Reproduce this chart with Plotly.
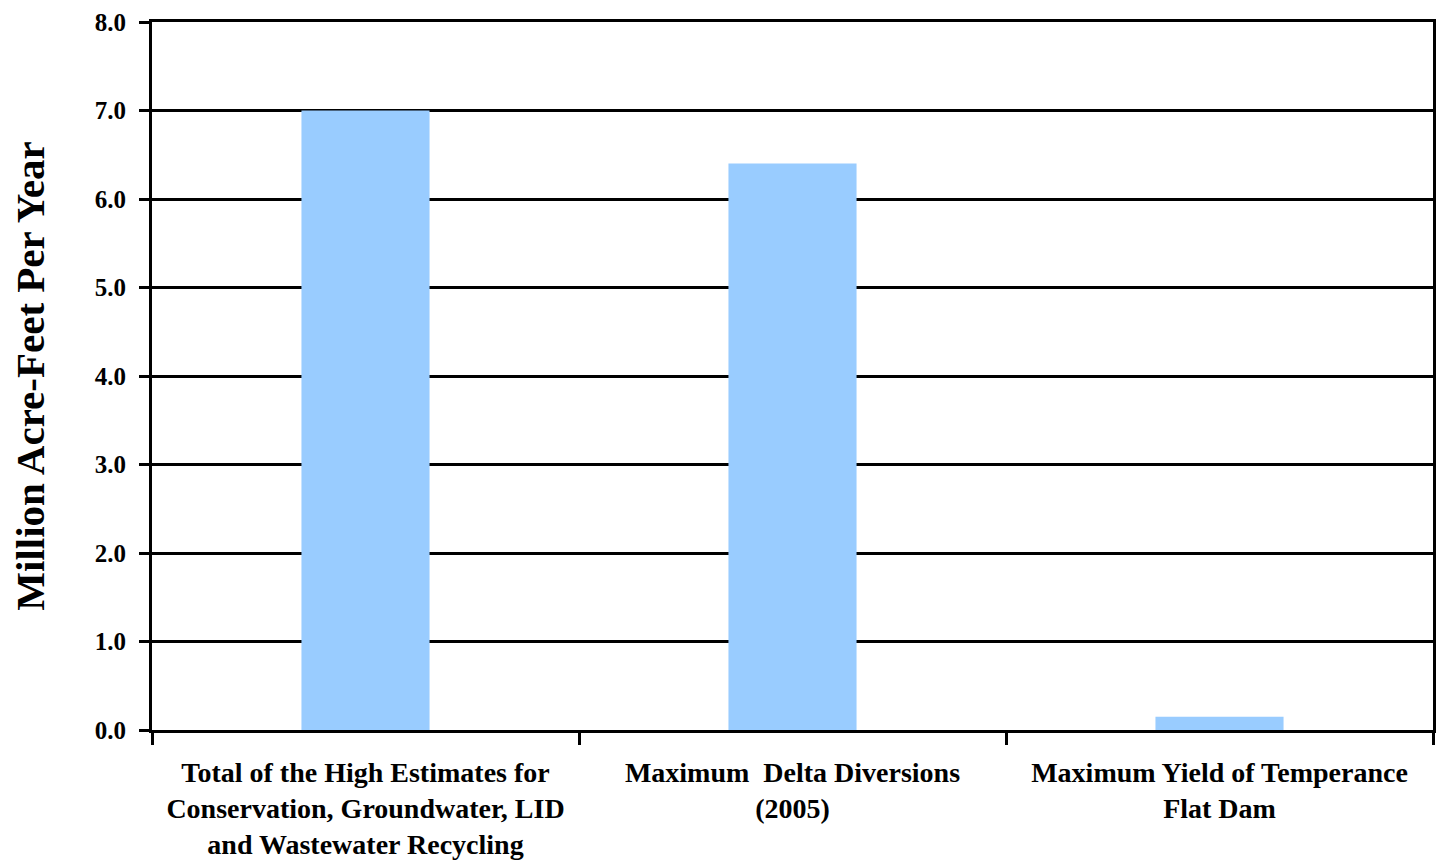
import plotly.graph_objects as go

categories = [
    "Total of the High Estimates for<br>Conservation, Groundwater, LID<br>and Wastewater Recycling",
    "Maximum  Delta Diversions<br>(2005)",
    "Maximum Yield of Temperance<br>Flat Dam",
]
values = [7.0, 6.4, 0.15]
y_ticks = [0, 1, 2, 3, 4, 5, 6, 7, 8]
y_tick_labels = ["0.0", "1.0", "2.0", "3.0", "4.0", "5.0", "6.0", "7.0", "8.0"]

FONT = "Liberation Serif"

fig = go.Figure()
fig.add_trace(go.Bar(
    x=categories,
    y=values,
    marker=dict(color="#99CCFF", line=dict(width=0)),
    width=0.3,
))

fig.update_layout(
    width=1441,
    height=866,
    margin=dict(l=152, r=5, t=22, b=136),
    paper_bgcolor="white",
    plot_bgcolor="white",
    showlegend=False,
    font=dict(family=FONT, color="black"),
)

fig.update_xaxes(
    type="category",
    showline=True,
    linecolor="black",
    linewidth=3,
    mirror=True,
    ticks="outside",
    tickson="boundaries",
    ticklen=12,
    tickwidth=3,
    tickcolor="black",
    showgrid=False,
    ticklabelstandoff=15,
    tickfont=dict(family=FONT, size=28, color="black", weight="bold"),
)

fig.update_yaxes(
    range=[0, 8],
    tickvals=y_ticks,
    ticktext=y_tick_labels,
    showline=True,
    linecolor="black",
    linewidth=3,
    mirror=True,
    ticks="outside",
    ticklen=10,
    tickwidth=3,
    tickcolor="black",
    showgrid=True,
    gridcolor="black",
    gridwidth=3,
    zeroline=False,
    ticklabelstandoff=8,
    tickfont=dict(family=FONT, size=25, color="black", weight="bold"),
    title=dict(
        text="Million Acre-Feet Per Year",
        font=dict(family=FONT, size=41, color="black", weight="bold"),
        standoff=38,
    ),
)

fig.write_html("out.html")
